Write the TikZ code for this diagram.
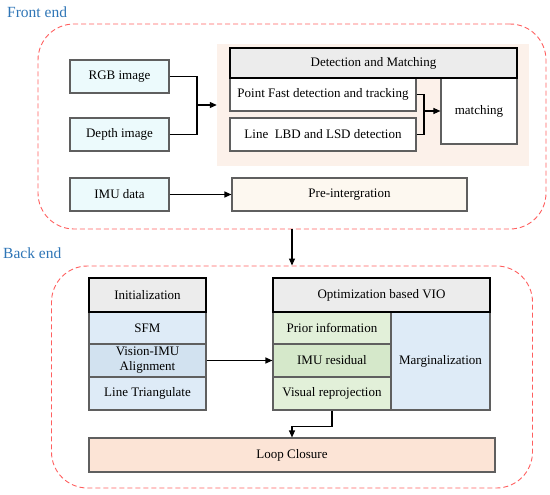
\documentclass[tikz,border=0pt]{standalone}
\usepackage{fontspec}
\setmainfont{Liberation Serif}
\usetikzlibrary{arrows.meta}
\definecolor{bluetxt}{RGB}{46,117,182}
\definecolor{reddash}{RGB}{255,95,95}
\definecolor{cyanfill}{RGB}{236,250,252}
\definecolor{detbgc}{RGB}{252,241,234}
\definecolor{prefill}{RGB}{253,248,240}
\definecolor{loopfill}{RGB}{252,228,214}
\definecolor{headgray}{RGB}{236,236,236}
\definecolor{bluea}{RGB}{222,235,247}
\definecolor{blueb}{RGB}{210,226,240}
\definecolor{greena}{RGB}{226,240,217}
\definecolor{greenb}{RGB}{213,232,202}
\definecolor{bordergray}{RGB}{95,95,95}
\tikzset{
  every node/.style={font=\fontsize{13}{15}\selectfont},
  box/.style={draw=bordergray, line width=1.1pt, inner sep=0pt, align=center},
  headbox/.style={draw=black, line width=1.6pt, fill=headgray, inner sep=0pt, align=center},
  group/.style={draw=reddash, line width=0.9pt, dash pattern=on 5pt off 3pt, rounded corners=36pt, inner sep=0pt},
  conn/.style={line width=1.1pt, black},
  arr/.style={conn, -{Triangle[length=7pt,width=6pt]}},
  title/.style={text=bluetxt, font=\fontsize{15.5}{18}\selectfont, inner sep=0pt, anchor=west}
}
\begin{document}
\begin{tikzpicture}[x=1pt,y=-1pt]
\useasboundingbox (0,0) rectangle (550,495);
% titles
\node[title] (ftitle) at (7,12) {Front end};
\node[title] (btitle) at (3,253) {Back end};
% groups
\node[group, minimum width=508pt, minimum height=205pt] (front) at (292,126.5) {};
\node[group, minimum width=481pt, minimum height=222pt] (back) at (292,377) {};
% front end
\node[fill=detbgc, inner sep=0pt, minimum width=312pt, minimum height=122pt] (detbg) at (373,105) {};
\node[box, fill=cyanfill, minimum width=99pt, minimum height=33pt] (rgb) at (119.5,76.5) {RGB image};
\node[box, fill=cyanfill, minimum width=99pt, minimum height=33pt] (depth) at (119.5,134.5) {Depth image};
\node[box, fill=cyanfill, minimum width=99pt, minimum height=33pt] (imu) at (119.5,194.5) {IMU data};
\node[box, fill=white, minimum width=186pt, minimum height=33pt] (point) at (323,94.5) {Point Fast detection and tracking};
\node[box, fill=white, minimum width=186pt, minimum height=33pt] (line) at (323,134.5) {Line~~LBD and LSD detection};
\node[box, fill=white, minimum width=76pt, minimum height=66pt] (matching) at (479,111) {matching};
\node[headbox, minimum width=287pt, minimum height=30pt] (dethead) at (373.5,63) {Detection and Matching};
\node[box, fill=prefill, minimum width=235pt, minimum height=33pt] (pre) at (349.5,194.5) {Pre-intergration};
\coordinate (j1) at (197,105);
\coordinate (j2) at (424,111);
\draw[conn] (rgb.east) -| (j1);
\draw[conn] (depth.east) -| (j1);
\draw[arr] (j1) -- (detbg.west);
\draw[conn] (point.east) -| (j2);
\draw[conn] (line.east) -| (j2);
\draw[arr] (j2) -- (matching.west);
\draw[arr] (imu.east) -- (pre.west);
\draw[arr] (front.south) -- (back.north);
% back end
\node[box, fill=bluea, minimum width=117pt, minimum height=32pt] (sfm) at (147.5,328) {SFM};
\node[box, fill=blueb, minimum width=117pt, minimum height=33pt] (vimu) at (147.5,360.5) {Vision-IMU\\Alignment};
\node[box, fill=bluea, minimum width=117pt, minimum height=33pt] (tri) at (147.5,393.5) {Line Triangulate};
\node[headbox, minimum width=117pt, minimum height=34pt] (inithead) at (147.5,295) {Initialization};
\node[box, fill=greena, minimum width=118pt, minimum height=32pt] (prior) at (332,328) {Prior information};
\node[box, fill=greenb, minimum width=118pt, minimum height=33pt] (imures) at (332,360.5) {IMU residual};
\node[box, fill=greena, minimum width=118pt, minimum height=33pt] (visrep) at (332,393.5) {Visual reprojection};
\node[box, fill=bluea, minimum width=99pt, minimum height=98pt] (marg) at (440.5,361) {Marginalization};
\node[headbox, minimum width=217pt, minimum height=34pt] (opthead) at (381.5,295) {Optimization based VIO};
\node[box, fill=loopfill, minimum width=406pt, minimum height=34pt] (loop) at (292,455) {Loop Closure};
\draw[arr] (vimu.east) -- (imures.west);
\draw[arr] (visrep.south) -- ++(0,16) -| (loop.north);
\end{tikzpicture}
\end{document}
